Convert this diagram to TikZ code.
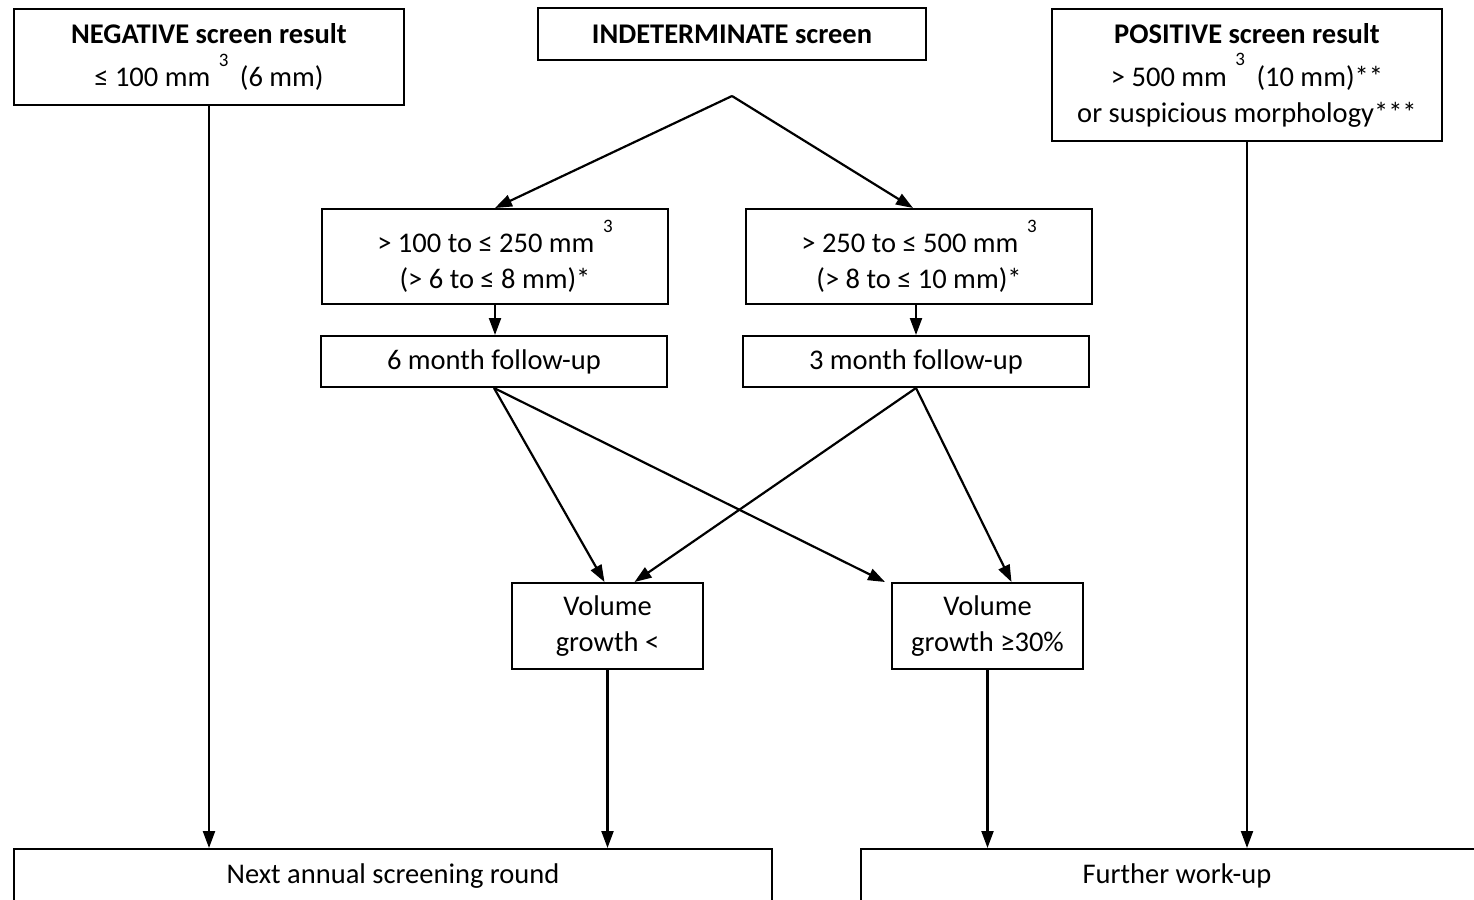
\documentclass[tikz,border=0pt]{standalone}
\usepackage{fontspec}
\setmainfont{Carlito}
\usetikzlibrary{arrows.meta}
\newcommand{\cubed}{\hspace{0.3em}\raisebox{0.72em}{\fontsize{19}{19}\selectfont 3}\hspace{0.4em}}

\begin{document}
\begin{tikzpicture}[x=1pt,y=-1pt,
  box/.style={draw, line width=2pt, align=center, inner sep=0pt,
    font=\fontsize{28.5}{36}\selectfont},
  arr/.style={line width=2.2pt, -{Triangle[length=17pt,width=12pt]}}]

  \useasboundingbox (0,0) rectangle (1474,899);

  % screen results
  \node[box, minimum width=390, minimum height=95] (neg) at (209,57)
    {\textbf{NEGATIVE screen result}\\[7pt] ≤ 100 mm\cubed(6 mm)};
  \node[box, minimum width=388, minimum height=52] (ind) at (732,34)
    {\textbf{INDETERMINATE screen}};
  \node[box, minimum width=390, minimum height=131] (pos) at (1247,75)
    {\textbf{POSITIVE screen result}\\[7pt] > 500 mm\cubed(10 mm)**\\ or suspicious morphology***};
  \coordinate (split) at (732,96);

  % indeterminate branches
  \node[box, minimum width=346, minimum height=95] (rngA) at (495,256.5)
    {> 100 to ≤ 250 mm\cubed\\ (> 6 to ≤ 8 mm)*};
  \node[box, minimum width=346, minimum height=95] (rngB) at (919,256.5)
    {> 250 to ≤ 500 mm\cubed\\ (> 8 to ≤ 10 mm)*};
  \node[box, minimum width=346, minimum height=51] (fuA) at (494,361.5) {6 month follow-up};
  \node[box, minimum width=346, minimum height=51] (fuB) at (916,361.5) {3 month follow-up};

  \node[box, minimum width=191, minimum height=86] (volLo) at (607.5,626) {Volume\\ growth <};
  \node[box, minimum width=191, minimum height=86] (volHi) at (987.5,626) {Volume\\ growth ≥30\%};

  % outcomes
  \node[box, minimum width=758, minimum height=54] (next) at (393,876) {Next annual screening round};
  \node[box, minimum width=632, minimum height=54] (work) at (1177,876) {Further work-up};

  \draw[arr] (neg.south) -- (neg.south |- next.north);
  \draw[arr] (pos.south) -- (pos.south |- work.north);
  \draw[arr] (split) -- (rngA.north);
  \draw[arr] (split) -- ([xshift=-6pt]rngB.north);
  \draw[arr] (rngA.south) -- (rngA.south |- fuA.north);
  \draw[arr] (fuB.north |- rngB.south) -- (fuB.north);
  \draw[arr] (fuA.south) -- ([xshift=-3pt]volLo.north);
  \draw[arr] (fuA.south) -- ([xshift=-6pt]volHi.north west);
  \draw[arr] (fuB.south) -- ([xshift=27pt]volLo.north);
  \draw[arr] (fuB.south) -- ([xshift=24pt]volHi.north);
  \draw[arr] (volLo.south) -- (volLo.south |- next.north);
  \draw[arr] (volHi.south) -- (volHi.south |- work.north);
\end{tikzpicture}
\end{document}
